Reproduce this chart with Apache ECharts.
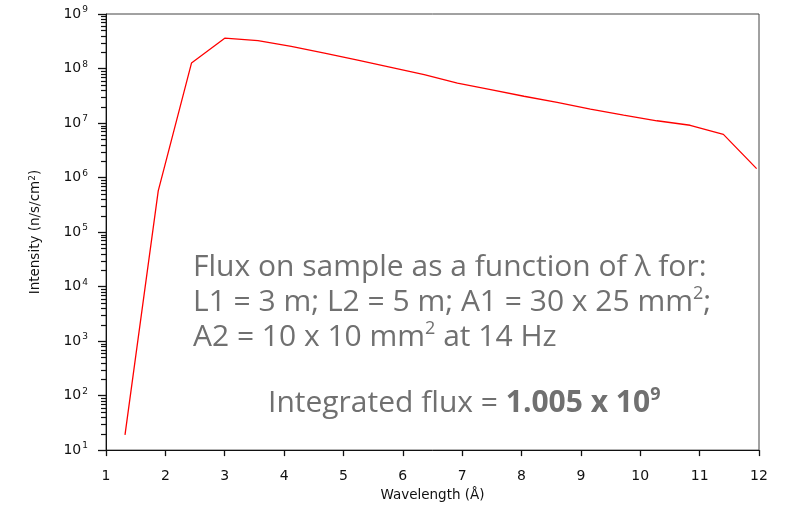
<!DOCTYPE html>
<html>
<head>
<meta charset="utf-8">
<script src="https://cdn.jsdelivr.net/npm/echarts@6/dist/echarts.min.js"></script>
<style>html,body{margin:0;padding:0;background:#fff}#c{width:786px;height:507px}</style>
</head>
<body>
<div id="c"></div>
<script>
// ---- data ----
const wavelength = [1.32, 1.88, 2.44, 3.00, 3.56, 4.12, 4.68, 5.24, 5.80, 6.36, 6.92, 7.48, 8.04, 8.60, 9.16, 9.72, 10.28, 10.84, 11.40, 11.96];
const intensity = [19, 5.7e5, 1.26e8, 3.6e8, 3.25e8, 2.55e8, 1.92e8, 1.42e8, 1.05e8, 7.7e7, 5.4e7, 4.1e7, 3.1e7, 2.4e7, 1.8e7, 1.4e7, 1.1e7, 9.1e6, 6.2e6, 1.46e6];
const xTicks = [1, 2, 3, 4, 5, 6, 7, 8, 9, 10, 11, 12];
const yMajor = [1e1, 1e2, 1e3, 1e4, 1e5, 1e6, 1e7, 1e8, 1e9];
const yMinorMult = [2, 3, 4, 5, 6, 7, 8, 9];
const xTitle = 'Wavelength (Å)';
const yTitle = 'Intensity (n/s/cm{sup|2})';
const noteLines = ['Flux on sample as a function of λ for:', 'L1 = 3 m; L2 = 5 m; A1 = 30 x 25 mm{s|2};', 'A2 = 10 x 10 mm{s|2} at 14 Hz'];
const integrated = 'Integrated flux = {b|1.005 x 10}{bs|9}';

const yMinor = [];
yMajor.slice(0, -1).forEach(d => yMinorMult.forEach(m => yMinor.push(d * m)));

const axisColor = '#111';
const chart = echarts.init(document.getElementById('c'));
const noteFont = 'Open Sans';
const noteColor = '#707070';

const graphics = [{
  type: 'text', id: 'note', x: 193, y: 249.5, z: 10,
  style: {
    text: noteLines.join('\n'),
    fontFamily: noteFont, fontSize: 30, lineHeight: 35, fill: noteColor,
    rich: { s: { fontFamily: noteFont, fontSize: 18, fill: noteColor, verticalAlign: 'top', lineHeight: 24 } }
  }
}, {
  type: 'text', id: 'integ', x: 268, y: 385.5, z: 10,
  style: {
    text: integrated,
    fontFamily: noteFont, fontSize: 30, lineHeight: 35, fill: noteColor,
    rich: {
      b: { fontFamily: noteFont, fontSize: 30, fontWeight: 'bold', fill: noteColor },
      bs: { fontFamily: noteFont, fontSize: 18, fontWeight: 'bold', fill: noteColor, verticalAlign: 'top', lineHeight: 24 }
    }
  }
}];

chart.setOption({
  animation: false,
  backgroundColor: '#fff',
  grid: { left: 106, right: 27, top: 14, bottom: 55, show: true, borderColor: '#444', borderWidth: 1, backgroundColor: 'transparent' },
  xAxis: {
    type: 'value', min: 1, max: 12, interval: 1,
    name: xTitle, nameLocation: 'middle', nameGap: 37,
    nameTextStyle: { fontFamily: 'DejaVu Sans', fontSize: 13.5, color: axisColor },
    axisLine: { lineStyle: { color: axisColor, width: 1 } },
    axisTick: { show: true, length: 6, lineStyle: { color: axisColor, width: 1.3 } },
    axisLabel: { fontFamily: 'DejaVu Sans', fontSize: 14, color: axisColor, margin: 19 },
    splitLine: { show: false }
  },
  yAxis: {
    type: 'log', logBase: 10, min: 10, max: 1e9,
    name: yTitle, nameLocation: 'middle', nameGap: 64, nameRotate: 90,
    nameTextStyle: { fontFamily: 'DejaVu Sans', fontSize: 13.5, color: axisColor, rich: { sup: { fontSize: 9, verticalAlign: 'top', fontFamily: 'DejaVu Sans', color: axisColor } } },
    axisLine: { show: true, lineStyle: { color: axisColor, width: 1 } },
    axisTick: { show: true, length: 8, lineStyle: { color: axisColor, width: 1.3 } },
    axisLabel: {
      margin: 18,
      fontFamily: 'DejaVu Sans', fontSize: 14, color: axisColor,
      formatter: v => '10{sup|' + Math.round(Math.log10(v)) + '}',
      rich: { sup: { fontSize: 9, verticalAlign: 'top', fontFamily: 'DejaVu Sans', color: axisColor, padding: [0, 0, 8, 1] } }
    },
    splitLine: { show: false }
  },
  series: [{
    type: 'line',
    data: wavelength.map((w, i) => [w, intensity[i]]),
    showSymbol: false, symbol: 'none',
    lineStyle: { color: '#ff0000', width: 1.3 },
    z: 3
  }],
  graphic: graphics
});

// log-spaced minor ticks on the y axis, positioned through the axis scale
const x0 = chart.convertToPixel({ xAxisIndex: 0 }, xTicks[0]);
const tickLines = yMinor.map((v, i) => {
  const py = chart.convertToPixel({ yAxisIndex: 0 }, v);
  return { type: 'line', id: 'mt' + i, z: 5, silent: true,
    shape: { x1: x0 - 5, y1: Math.round(py) + 0.5, x2: x0, y2: Math.round(py) + 0.5 },
    style: { stroke: axisColor, lineWidth: 1.2 } };
});
chart.setOption({ graphic: graphics.concat(tickLines) });
</script>
</body>
</html>
